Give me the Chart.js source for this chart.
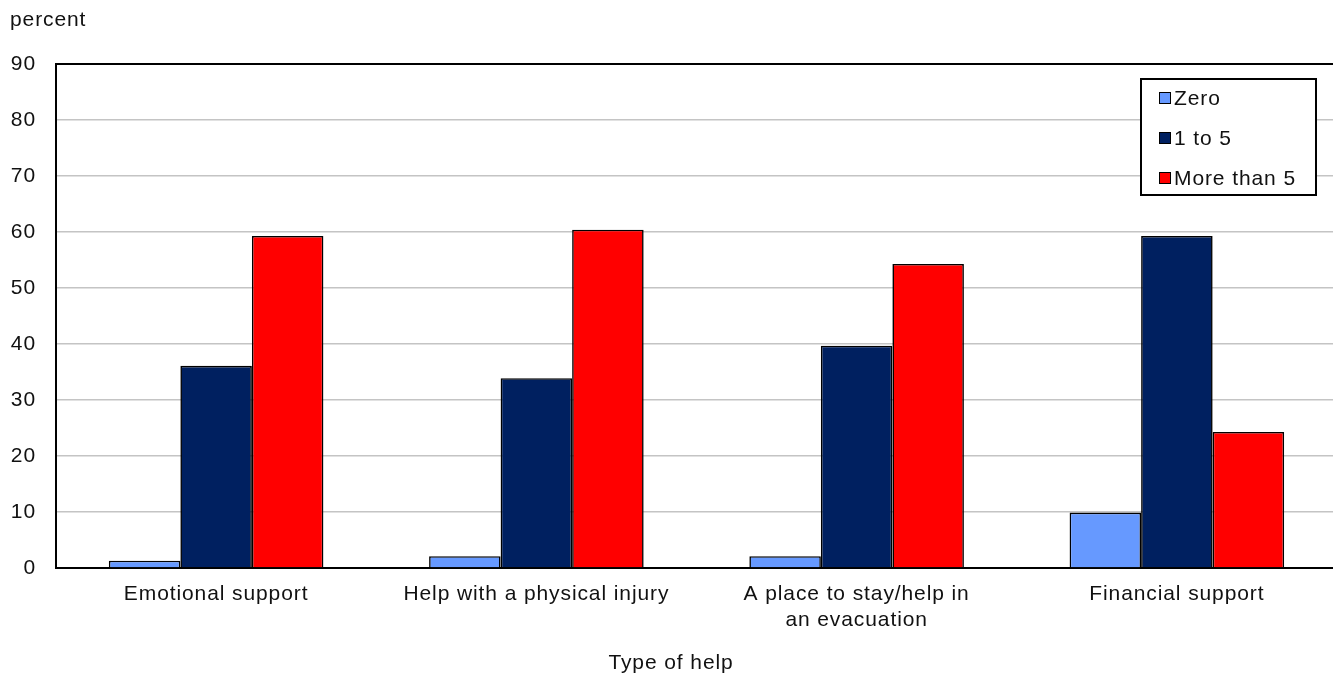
<!DOCTYPE html>
<html>
<head>
<meta charset="utf-8">
<script src="https://cdn.jsdelivr.net/npm/chart.js@4.4.1/dist/chart.umd.min.js"></script>
<style>
  html, body { margin: 0; padding: 0; background: #fff; overflow: hidden; }
  #wrap { width: 1337px; height: 675px; }
</style>
</head>
<body>
<div id="wrap"><canvas id="helpChart" width="1337" height="675"></canvas></div>
<script>
const categories = [
    'Emotional support',
    'Help with a physical injury',
    ['A place to stay/help in', 'an evacuation'],
    'Financial support'
];
const zero = [1.3, 2.1, 2.1, 9.9];
const oneToFive = [36.1, 33.9, 39.7, 59.3];
const moreThanFive = [59.3, 60.4, 54.3, 24.3];
const yTicks = [0, 10, 20, 30, 40, 50, 60, 70, 80, 90];

const FONT = 'Liberation Sans, Arial, sans-serif';
Chart.defaults.font.family = FONT;
Chart.defaults.font.size = 21;
Chart.defaults.color = '#111';

// wider letter spacing like the original rendering
const spacing = {
    id: 'spacing',
    beforeDraw(chart) {
        chart.ctx.letterSpacing = '0.9px';
    }
};

// legend box inside the plot, unit label and axis title
const legendBox = {
    id: 'legendBox',
    afterDraw(chart) {
        const ctx = chart.ctx;
        ctx.save();
        ctx.letterSpacing = '0.9px';
        ctx.fillStyle = '#fff';
        ctx.fillRect(1141, 79, 175, 116);
        ctx.strokeStyle = '#000';
        ctx.lineWidth = 2;
        ctx.strokeRect(1141, 79, 175, 116);
        ctx.font = '21px ' + FONT;
        ctx.textBaseline = 'middle';
        chart.data.datasets.forEach((ds, i) => {
            const y = 98 + i * 40;
            ctx.fillStyle = ds.backgroundColor;
            ctx.fillRect(1159, y - 6, 12, 12);
            ctx.lineWidth = 1;
            ctx.strokeStyle = '#000';
            ctx.strokeRect(1159.5, y - 5.5, 11, 11);
            ctx.fillStyle = '#111';
            ctx.fillText(ds.label, 1174, y + 1);
        });
        ctx.textAlign = 'left';
        ctx.fillText('percent', 10, 20);
        ctx.textAlign = 'center';
        ctx.fillText('Type of help', 671, 663);
        ctx.restore();
    }
};

new Chart(document.getElementById('helpChart'), {
    type: 'bar',
    data: {
        labels: categories,
        datasets: [{
            label: 'Zero',
            data: zero,
            backgroundColor: '#6699FF'
        }, {
            label: '1 to 5',
            data: oneToFive,
            backgroundColor: '#002060'
        }, {
            label: 'More than 5',
            data: moreThanFive,
            backgroundColor: '#FF0000'
        }]
    },
    options: {
        responsive: false,
        animation: false,
        devicePixelRatio: 1,
        layout: { padding: { top: 64, right: 0, bottom: 0, left: 0 } },
        datasets: {
            bar: {
                borderColor: '#000',
                borderWidth: 1.6,
                categoryPercentage: 0.67,
                barPercentage: 1
            }
        },
        plugins: {
            legend: { display: false },
            tooltip: { enabled: false }
        },
        scales: {
            x: {
                grid: { display: false, drawTicks: false },
                border: { display: true, color: '#000', width: 2 },
                ticks: { padding: 14, maxRotation: 0, autoSkip: false, color: '#111' },
                afterFit: s => { s.height = 107; }
            },
            y: {
                min: 0,
                max: 90,
                afterBuildTicks: s => { s.ticks = yTicks.map(v => ({ value: v })); },
                grid: {
                    drawTicks: false,
                    color: ctx => ctx.tick && ctx.tick.value === 90 ? '#000' : '#c4c4c4',
                    lineWidth: ctx => ctx.tick && ctx.tick.value === 90 ? 2 : 1.5
                },
                border: { display: true, color: '#000', width: 2 },
                ticks: { padding: 20, color: '#111' },
                afterFit: s => { s.width = 56; }
            }
        }
    },
    plugins: [spacing, legendBox]
});
</script>
</body>
</html>
